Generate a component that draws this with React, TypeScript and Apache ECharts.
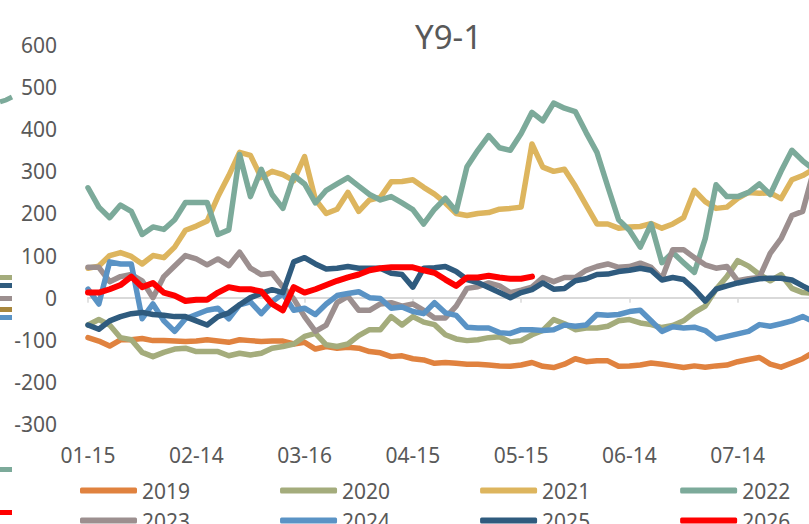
import React, { useEffect, useRef } from "react";
import * as echarts from "echarts";

// x-axis tick labels (every 30 calendar days starting 01-15)
const xTickLabels = ["01-15", "02-14", "03-16", "04-15", "05-15", "06-14", "07-14"];
const DAY_STEP = 3; // values are read every 3 calendar days from 01-15

const years = ["2019", "2020", "2021", "2022", "2023", "2024", "2025", "2026"];
const colors = ["#E0823F", "#A4AC7C", "#DDB55E", "#7CAA9A", "#9C8F8F", "#5A93C5", "#2F5B7E", "#FF0000"];

const s2019 = [-95, -103, -115, -100, -100, -97, -102, -102, -103, -104,
  -103, -100, -103, -106, -100, -102, -104, -103, -103, -110,
  -106, -122, -116, -120, -118, -120, -128, -131, -140, -138,
  -145, -148, -156, -154, -156, -158, -158, -160, -162, -163,
  -160, -154, -163, -166, -158, -145, -152, -150, -150, -163,
  -162, -160, -155, -158, -162, -166, -162, -165, -162, -160,
  -152, -147, -142, -158, -165, -155, -145, -130];
const s2020 = [-65, -52, -65, -95, -100, -130, -140, -130, -122, -120,
  -128, -128, -128, -138, -132, -136, -132, -120, -116, -110,
  -92, -85, -112, -116, -110, -90, -76, -76, -45, -65,
  -45, -58, -64, -88, -98, -102, -100, -95, -93, -105,
  -102, -88, -78, -52, -62, -76, -72, -72, -68, -55,
  -52, -60, -64, -71, -66, -55, -35, -20, 20, 50,
  88, 75, 55, 40, 55, 22, 12, 10];
const s2021 = [70, 75, 100, 107, 98, 80, 100, 95, 120, 160,
  170, 182, 240, 290, 345, 338, 285, 300, 292, 278,
  335, 233, 200, 210, 250, 205, 232, 238, 275, 276,
  280, 262, 246, 225, 200, 195, 200, 202, 210, 212,
  215, 365, 310, 300, 305, 265, 220, 175, 175, 165,
  168, 169, 176, 165, 175, 190, 255, 228, 212, 215,
  236, 250, 248, 249, 235, 280, 290, 305];
const s2022 = [261, 215, 190, 220, 205, 150, 168, 162, 185, 226,
  226, 226, 150, 161, 340, 240, 305, 245, 212, 290,
  270, 225, 255, 270, 285, 265, 245, 232, 240, 225,
  209, 175, 210, 236, 205, 311, 350, 385, 356, 350,
  390, 440, 420, 462, 450, 442, 392, 345, 264, 185,
  160, 120, 175, 83, 107, 83, 60, 140, 268, 240,
  240, 250, 270, 245, 300, 350, 325, 305];
const s2023 = [72, 72, 38, 50, 55, 40, 0, 50, 75, 100,
  92, 78, 92, 76, 108, 70, 55, 58, 25, -3,
  -45, -80, -65, -12, 3, -30, -30, -15, -12, -20,
  -15, -30, -48, -48, -20, 22, 26, 35, 28, 12,
  18, 25, 48, 38, 48, 48, 65, 74, 80, 72,
  74, 82, 72, 45, 114, 114, 95, 78, 70, 74,
  40, 45, 48, 105, 140, 195, 205, 300];
const s2024 = [20, -15, 85, 80, 80, -50, -15, -55, -80, -50,
  -40, -30, -25, -50, -17, -10, -38, -10, 10, -30,
  -25, -40, -15, 5, 10, 14, 0, -2, -25, -22,
  -33, -38, -12, -36, -42, -70, -72, -72, -83, -85,
  -76, -76, -78, -76, -65, -68, -65, -40, -42, -40,
  -33, -30, -55, -80, -69, -72, -70, -78, -98, -92,
  -86, -80, -64, -68, -62, -55, -45, -57];
const s2025 = [-65, -75, -55, -45, -38, -35, -40, -42, -45, -45,
  -55, -65, -45, -36, -17, 0, 10, 19, 12, 85,
  95, 80, 68, 70, 74, 70, 70, 70, 58, 55,
  25, 70, 71, 74, 62, 43, 36, 24, 12, 0,
  12, 19, 35, 20, 22, 40, 45, 55, 56, 62,
  65, 70, 65, 42, 48, 43, 20, -8, 20, 28,
  35, 40, 45, 46, 46, 42, 28, 15];
const s2026 = [12, 12, 20, 30, 50, 25, 35, 12, 5, -8,
  -5, -5, 12, 25, 20, 20, 15, -15, -30, 25,
  12, 20, 30, 40, 48, 55, 65, 70, 72, 72,
  72, 65, 59, 43, 28, 48, 48, 52, 48, 45,
  45, 50];

const allSeries = [s2019, s2020, s2021, s2022, s2023, s2024, s2025, s2026];

const FONT = "'Noto Sans', 'Open Sans', sans-serif";
const TXT = "#595959";

export default function App() {
  const ref = useRef<HTMLDivElement>(null);

  useEffect(() => {
    if (!ref.current) return;
    const chart = echarts.init(ref.current, undefined, { renderer: "svg" });

    const series = years.map((y, i) => ({
      name: y,
      type: "line",
      xAxisIndex: 0,
      yAxisIndex: 0,
      data: allSeries[i].map((v, k) => [k * DAY_STEP, v]),
      showSymbol: false,
      symbol: "none",
      lineStyle: { width: i === 7 ? 6 : 5.5, color: colors[i], join: "round", cap: "round" },
      itemStyle: { color: colors[i] },
      emphasis: { disabled: true },
    }));

    const legendCommon = {
      left: 75,
      itemWidth: 57,
      itemHeight: 6,
      itemGap: 90,
      icon: "roundRect",
      orient: "horizontal",
      textStyle: { fontSize: 21, color: TXT, fontFamily: FONT },
      selectedMode: false,
    };

    const edge = (y: number, c: string) => ({
      type: "rect",
      shape: { x: 0, y, width: 12, height: 5 },
      style: { fill: c },
      silent: true,
    });

    chart.setOption({
      animation: false,
      backgroundColor: "#ffffff",
      title: {
        text: "Y9-1",
        left: 410,
        top: 15,
        textStyle: { fontSize: 33, fontWeight: "normal", color: TXT, fontFamily: FONT },
      },
      grid: { left: 88, top: 45, height: 379, width: 758, containLabel: false },
      xAxis: [
        {
          type: "value",
          min: 0,
          max: 210,
          interval: 30,
          position: "bottom",
          axisLine: { show: false, onZero: false },
          axisTick: { show: false },
          splitLine: { show: false },
          axisLabel: {
            fontSize: 21,
            color: TXT,
            fontFamily: FONT,
            margin: 20,
            formatter: (v: number) => xTickLabels[Math.round(v / 30)] ?? "",
          },
        },
        {
          type: "value",
          min: 0,
          max: 210,
          interval: 30,
          position: "bottom",
          axisLine: { show: true, onZero: true, lineStyle: { color: "#D9D9D9", width: 2 } },
          axisTick: { show: true, length: 5, lineStyle: { color: "#D9D9D9", width: 1.5 } },
          axisLabel: { show: false },
          splitLine: { show: false },
        },
      ],
      yAxis: {
        type: "value",
        min: -300,
        max: 600,
        interval: 100,
        axisLine: { show: false },
        axisTick: { show: false },
        splitLine: { show: false },
        axisLabel: { fontSize: 21, color: TXT, fontFamily: FONT, margin: 31 },
      },
      legend: [
        { ...legendCommon, top: 475, data: years.slice(0, 4) },
        { ...legendCommon, top: 505, data: years.slice(4) },
      ],
      graphic: [
        {
          type: "polyline",
          shape: { points: [[0, 102], [6, 100], [12, 97]] },
          style: { stroke: "#7CAA9A", lineWidth: 5, fill: "none" },
          silent: true,
        },
        edge(275, "#A4AC7C"),
        edge(283, "#2F5B7E"),
        edge(296, "#9C8F8F"),
        edge(307, "#A8873D"),
        edge(315, "#5A93C5"),
        edge(467, "#7CAA9A"),
        edge(510, "#FF0000"),
      ],
      series,
    });

    return () => chart.dispose();
  }, []);

  return (
    <div
      style={{
        position: "fixed",
        left: 0,
        top: 0,
        width: 809,
        height: 524,
        overflow: "hidden",
        background: "#fff",
      }}
    >
      <div ref={ref} style={{ width: 850, height: 545 }} />
    </div>
  );
}
